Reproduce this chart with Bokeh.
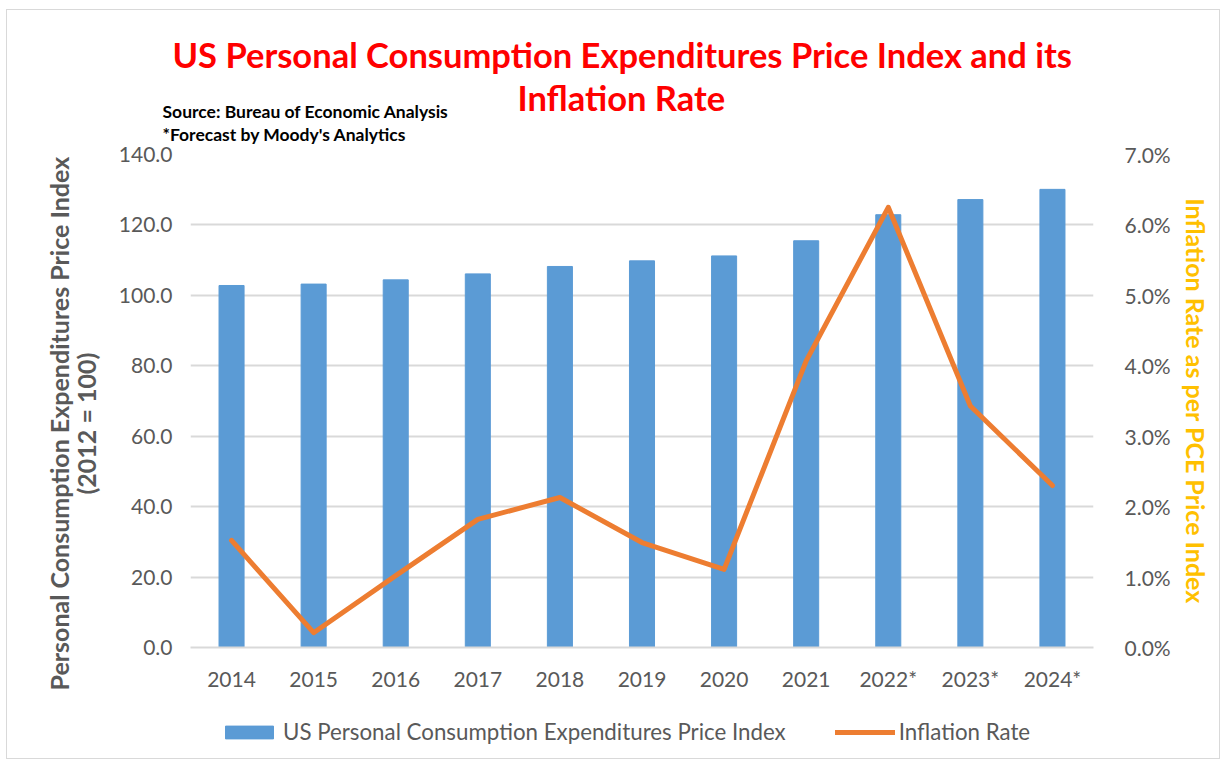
from bokeh.plotting import figure
from bokeh.layouts import column
from bokeh.models import (Range1d, FactorRange, LinearAxis, FixedTicker, PrintfTickFormatter,
                          Title, Legend, LegendItem, ColumnDataSource)
from bokeh.embed import file_html
from bokeh.resources import INLINE

years = ["2014", "2015", "2016", "2017", "2018", "2019", "2020", "2021", "2022*", "2023*", "2024*"]
pce_index = [102.8, 103.2, 104.4, 106.1, 108.2, 109.8, 111.2, 115.5, 122.9, 127.2, 130.1]
inflation_rate = [1.52, 0.21, 1.02, 1.82, 2.13, 1.49, 1.11, 4.07, 6.25, 3.43, 2.30]
left_ticks = [0, 20, 40, 60, 80, 100, 120, 140]
right_ticks = [0, 1, 2, 3, 4, 5, 6, 7]

FONT = "Lato"
GRAY = "#595959"
GRID = "#D9D9D9"
BLUE = "#5B9BD5"
ORANGE = "#ED7D31"

src = ColumnDataSource(dict(year=years, pce=pce_index, infl=inflation_rate))

p = figure(x_range=years, y_range=Range1d(0, 140), title=None,
           frame_width=903, frame_height=493,
           min_border_left=183, min_border_right=125,
           min_border_top=144, min_border_bottom=45,
           output_backend="svg", toolbar_location=None,
           background_fill_color="white", border_fill_color="white")
p.outline_line_color = None
p.extra_y_ranges = {"pct": Range1d(0, 7)}

bar_kw = dict(width=0.305, color=BLUE)
line_kw = dict(line_color=ORANGE, line_width=5, line_join="round", line_cap="round")
p.vbar(x="year", top="pce", source=src, **bar_kw)
p.line(x="year", y="infl", source=src, y_range_name="pct", **line_kw)

def style_axis(ax, standoff):
    ax.axis_line_color = None
    ax.major_tick_line_color = None
    ax.minor_tick_line_color = None
    ax.major_label_standoff = standoff
    ax.major_label_text_font = FONT
    ax.major_label_text_font_size = "21px"
    ax.major_label_text_color = GRAY

# left axis
la = p.yaxis[0]
la.ticker = FixedTicker(ticks=left_ticks)
la.formatter = PrintfTickFormatter(format="%.1f")
style_axis(la, 12)

# right axis
ra = LinearAxis(y_range_name="pct", ticker=FixedTicker(ticks=right_ticks),
                formatter=PrintfTickFormatter(format="%.1f%%"))
style_axis(ra, 25)
p.add_layout(ra, "right")
p.add_layout(Title(text="Inflation Rate as per PCE Price Index", align="center", standoff=14,
                   text_font=FONT, text_font_size="25px", text_font_style="bold",
                   text_color="#FFC000"), "right")

# bottom axis
xa = p.xaxis[0]
style_axis(xa, 12)
xa.axis_line_color = GRID
xa.axis_line_width = 2

p.xgrid.grid_line_color = None
p.ygrid.ticker = FixedTicker(ticks=left_ticks)
p.ygrid.grid_line_color = GRID
p.ygrid.grid_line_width = 2

# left axis titles (closest to the axis first)
for txt, off, so in [("(2012 = 100)", 153, 30), ("Personal Consumption Expenditures Price Index", -43, -40)]:
    p.add_layout(Title(text=txt, align="left", offset=off, standoff=so,
                       text_font=FONT, text_font_size="25px", text_font_style="bold",
                       text_color=GRAY), "left")

# titles above (closest to the frame first)
above_titles = [
    ("*Forecast by Moody's Analytics", -28, "17.5px", "#000000", 20),
    ("Source: Bureau of Economic Analysis", -28, "17.5px", "#000000", -20),
    ("Inflation Rate", 327, "34.5px", "#FF0000", -18),
    ("US Personal Consumption Expenditures Price  Index and its", -18, "34.5px", "#FF0000", 18),
]
for txt, off, size, col, so in above_titles:
    p.add_layout(Title(text=txt, align="left", offset=off, standoff=so,
                       text_font=FONT, text_font_size=size, text_font_style="bold",
                       text_color=col), "above")

# legend strip (its own figure; swatch renderers sit outside its visible range)
lg = figure(x_range=FactorRange(*years), y_range=Range1d(1000, 1001),
            width=1211, height=65, min_border=0,
            x_axis_location=None, y_axis_location=None,
            output_backend="svg", toolbar_location=None,
            background_fill_color="white", border_fill_color="white")
lg.outline_line_color = None
lg.grid.visible = False
r_bar = lg.vbar(x="year", top="pce", source=src, **bar_kw)
r_line = lg.line(x="year", y="infl", source=src, **line_kw)

legend = Legend(items=[
    LegendItem(label="US Personal Consumption Expenditures Price Index", renderers=[r_bar]),
    LegendItem(label="Inflation Rate", renderers=[r_line]),
], location=(29, 13), orientation="horizontal",
    glyph_width=60, glyph_height=16, label_height=25, label_standoff=4,
    padding=0, margin=0, spacing=49,
    border_line_color=None, background_fill_alpha=0,
    label_text_font=FONT, label_text_font_size="22.3px",
    label_text_color=GRAY, label_text_baseline="middle")
lg.add_layout(legend, "center")

page = column(p, lg, spacing=0)
page.styles = {"border": "1px solid #D9D9D9", "margin-left": "6px", "margin-top": "9px"}

open("out.html", "w").write(file_html(page, INLINE))
